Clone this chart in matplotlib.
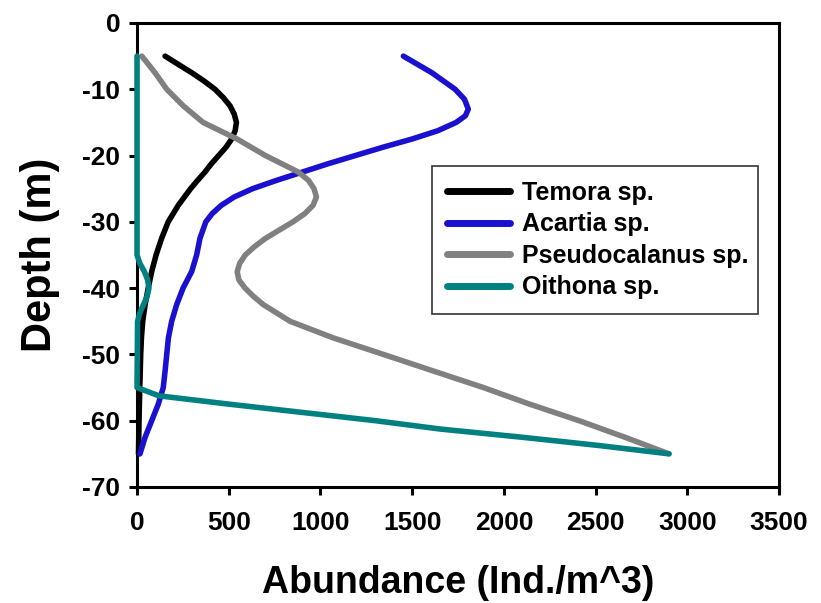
import numpy as np
import matplotlib
matplotlib.use("Agg")
import matplotlib.pyplot as plt

plt.rcParams['font.family'] = ['Liberation Sans', 'DejaVu Sans']
plt.rcParams['font.weight'] = 'bold'
plt.rcParams['axes.unicode_minus'] = False

# values (depth in m, abundance in Ind./m^3)
temora_depth = [-5, -6.25, -7.5, -8.75, -10, -11.25, -12.5, -13.75, -15, -16.25, -17.5,
                -18.75, -20, -21.25, -22.5, -23.75, -25, -27.5, -30, -32.5, -35, -37.5,
                -40, -42.5, -45, -47.5, -50, -55, -60, -65]
temora = [153, 225, 298, 365, 425, 470, 507, 530, 542, 535, 516,
          485, 445, 405, 370, 330, 292, 225, 170, 134, 104, 80,
          61, 44, 31, 24, 20, 15, 11, 8]

acartia_depth = [-5, -7.5, -10, -11.5, -13, -14, -15, -16.25, -17.5, -18.75, -20, -21.25,
                 -22.5, -23.75, -25, -26.25, -27.5, -28.75, -30, -32.5, -35, -37.5, -40,
                 -42.5, -45, -47.5, -50, -52.5, -55, -57.5, -60, -62.5, -65]
acartia = [1452, 1607, 1734, 1785, 1806, 1790, 1740, 1640, 1500, 1340, 1190, 1040,
           900, 760, 630, 530, 460, 410, 375, 343, 325, 298, 251,
           216, 189, 171, 162, 153, 143, 116, 80, 44, 16]

pseudo_depth = [-5, -7.5, -10, -12.5, -15, -17.5, -20, -22.5, -23.75, -25, -26.25, -27.5,
                -28.75, -30, -31.25, -32.5, -33.75, -35, -36.25, -37.5, -38.75, -40,
                -41.25, -42.5, -45, -47.5, -50, -52.5, -55, -57.5, -60, -62.5, -65]
pseudocalanus = [26, 98, 162, 252, 360, 545, 700, 880, 935, 965, 978, 960,
                 915, 850, 775, 700, 640, 590, 560, 546, 555, 589,
                 635, 689, 834, 1069, 1343, 1615, 1888, 2140, 2410, 2660, 2900]

oithona_depth = [-5, -15, -25, -35, -36.25, -37.5, -38.75, -40, -41.25, -42.5, -43.75,
                 -45, -55, -56.25, -57.5, -58.75, -60, -61.25, -62.5, -63.75, -65]
oithona = [0, 0, 0, 0, 15, 40, 58, 65, 55, 35, 15,
           3, 0, 120, 500, 900, 1300, 1650, 2100, 2520, 2900]

names = ['Temora sp.', 'Acartia sp.', 'Pseudocalanus sp.', 'Oithona sp.']
colors = ['#000000', '#1a10d0', '#808080', '#008080']
series = [(temora, temora_depth), (acartia, acartia_depth),
          (pseudocalanus, pseudo_depth), (oithona, oithona_depth)]

fig = plt.figure(figsize=(8.21, 6.03), dpi=100)
ax = fig.add_axes([0.1669, 0.1924, 0.7820, 0.7695])

for (vals, dep), name, col in zip(series, names, colors):
    ax.plot(vals, dep, color=col, lw=4, label=name, solid_capstyle='round',
            solid_joinstyle='round', clip_on=False, zorder=3)

ax.set_xlim(0, 3500)
ax.set_ylim(-70, 0)
ax.set_xticks(np.arange(0, 3501, 500))
ax.set_yticks(np.arange(-70, 1, 10))

for s in ax.spines.values():
    s.set_linewidth(2.2)
ax.tick_params(direction='out', length=6, width=2.2, labelsize=19, pad=6)
ax.tick_params(axis='x', pad=11)
for lab in ax.get_xticklabels() + ax.get_yticklabels():
    lab.set_fontweight('bold')

ax.set_xlabel('Abundance (Ind./m^3)', fontsize=27, fontweight='bold', labelpad=22)
ax.set_ylabel('Depth (m)', fontsize=30, fontweight='bold', labelpad=16)

leg = ax.legend(loc='upper left', bbox_to_anchor=(0.4595, 0.366, 0.5075, 0.326),
                mode='expand', fancybox=False, framealpha=1, edgecolor='#333333',
                prop={'size': 18, 'weight': 'bold'}, handlelength=2.5,
                handletextpad=0.5, labelspacing=0.3, borderpad=0.6, borderaxespad=0)
leg.get_frame().set_linewidth(1.2)
for h in leg.get_lines():
    h.set_linewidth(5)

plt.savefig('out.png', dpi=100)
